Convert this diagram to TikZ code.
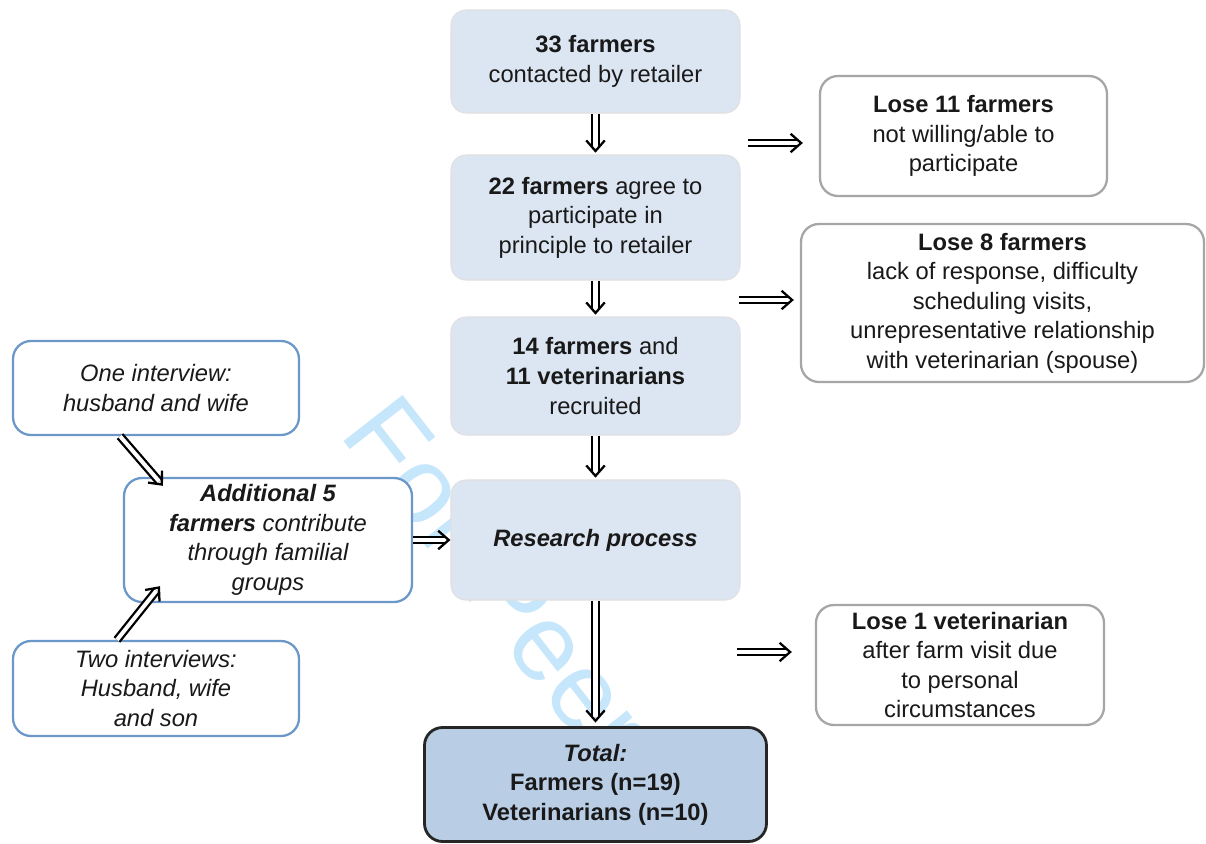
\documentclass[tikz,border=0pt]{standalone}
\usepackage{fontspec}
\setmainfont{Liberation Sans}
\usetikzlibrary{arrows.meta,decorations.markings}

\definecolor{boxblue}{RGB}{220,230,242}
\definecolor{totalblue}{RGB}{185,205,229}
\definecolor{sideblue}{RGB}{108,152,201}
\definecolor{losegray}{RGB}{166,166,166}
\definecolor{markblue}{RGB}{198,231,251}

\begin{document}
\begin{tikzpicture}[
	every node/.style = {align=center, text=black!90, font=\fontsize{13.5}{16.8}\selectfont},
	stagebox/.style = {rounded corners=0.3cm, fill=boxblue, draw=black!12, line width=0.6pt, minimum width=5.78cm},
	losebox/.style = {rounded corners=0.36cm, fill=white, draw=losegray, line width=1.3pt},
	sidebox/.style = {rounded corners=0.36cm, fill=white, draw=sideblue, line width=1.3pt, font=\fontsize{13.5}{16.8}\selectfont\itshape},
	dbl/.style = {double, double distance=2.3pt, line width=1.3pt, shorten >=3.2pt, postaction={decorate},
		decoration={markings, mark=at position 1 with {\arrow[line width=1.3pt]{Straight Barb[length=6pt, width=10.5pt]}}}}
]
%
	\useasboundingbox[fill=white] (0,0) rectangle (24.12,-16.88);
	\node[rotate=-52, anchor=base west, text=markblue, font=\fontsize{62}{62}\selectfont] (mark) at (6.7,-8.6) {For Peer};
%
	\node[stagebox, minimum height=2.06cm] (q33) at (11.91,-1.23) {\textbf{33 farmers}\\contacted by retailer};
	\node[stagebox, minimum height=2.5cm] (q22) at (11.91,-4.35) {\textbf{22 farmers} agree to\\participate in\\principle to retailer};
	\node[stagebox, minimum height=2.36cm] (q14) at (11.91,-7.52) {\textbf{14 farmers} and\\\textbf{11 veterinarians}\\recruited};
	\node[stagebox, minimum height=2.4cm] (research) at (11.91,-10.8) {\textbf{\textit{Research process}}};
	\node[rounded corners=0.36cm, fill=totalblue, draw=black!85, line width=1.6pt, minimum width=6.84cm, minimum height=2.28cm] (total) at (11.91,-15.69) {\textbf{\textit{Total:}}\\\textbf{Farmers (n=19)}\\\textbf{Veterinarians (n=10)}};
%
	\node[losebox, minimum width=5.74cm, minimum height=2.4cm] (lose11) at (19.27,-2.72) {\textbf{Lose 11 farmers}\\not willing/able to\\participate};
	\node[losebox, minimum width=8.06cm, minimum height=3.16cm] (lose8) at (20.05,-6.06) {\textbf{Lose 8 farmers}\\lack of response, difficulty\\scheduling visits,\\unrepresentative relationship\\with veterinarian (spouse)};
	\node[losebox, minimum width=5.76cm, minimum height=2.4cm] (lose1) at (19.2,-13.3) {\textbf{Lose 1 veterinarian}\\after farm visit due\\to personal\\circumstances};
%
	\node[sidebox, minimum width=5.72cm, minimum height=1.88cm] (one) at (3.12,-7.76) {One interview:\\husband and wife};
	\node[sidebox, minimum width=5.76cm, minimum height=2.48cm] (addl) at (5.36,-10.8) {\textbf{Additional 5}\\\textbf{farmers} contribute\\through familial\\groups};
	\node[sidebox, minimum width=5.72cm, minimum height=1.9cm] (two) at (3.12,-13.77) {Two interviews:\\Husband, wife\\and son};
%
	\draw[dbl] (q33) -- ([yshift=1pt]q22.north);
	\draw[dbl] (q22) -- ([yshift=1pt]q14.north);
	\draw[dbl] (q14) -- ([yshift=1pt]research.north);
	\draw[dbl] (research) -- ([yshift=2pt]total.north);
	\draw[dbl] ([xshift=-1.42cm,yshift=-0.14cm]lose11.west) -- ([xshift=-0.32cm,yshift=-0.14cm]lose11.west);
	\draw[dbl] ([xshift=-1.22cm,yshift=0.06cm]lose8.west) -- ([xshift=-0.12cm,yshift=0.06cm]lose8.west);
	\draw[dbl] ([xshift=-1.56cm,yshift=0.26cm]lose1.west) -- ([xshift=-0.46cm,yshift=0.26cm]lose1.west);
	\draw[dbl] (addl.east) -- (research.west);
	\draw[dbl] ([xshift=-0.72cm]one.south) -- ([xshift=-2.1cm,yshift=-0.18cm]addl.north);
	\draw[dbl] ([xshift=-0.78cm]two.north) -- ([xshift=-2.16cm,yshift=0.34cm]addl.south);
%
\end{tikzpicture}
\end{document}
